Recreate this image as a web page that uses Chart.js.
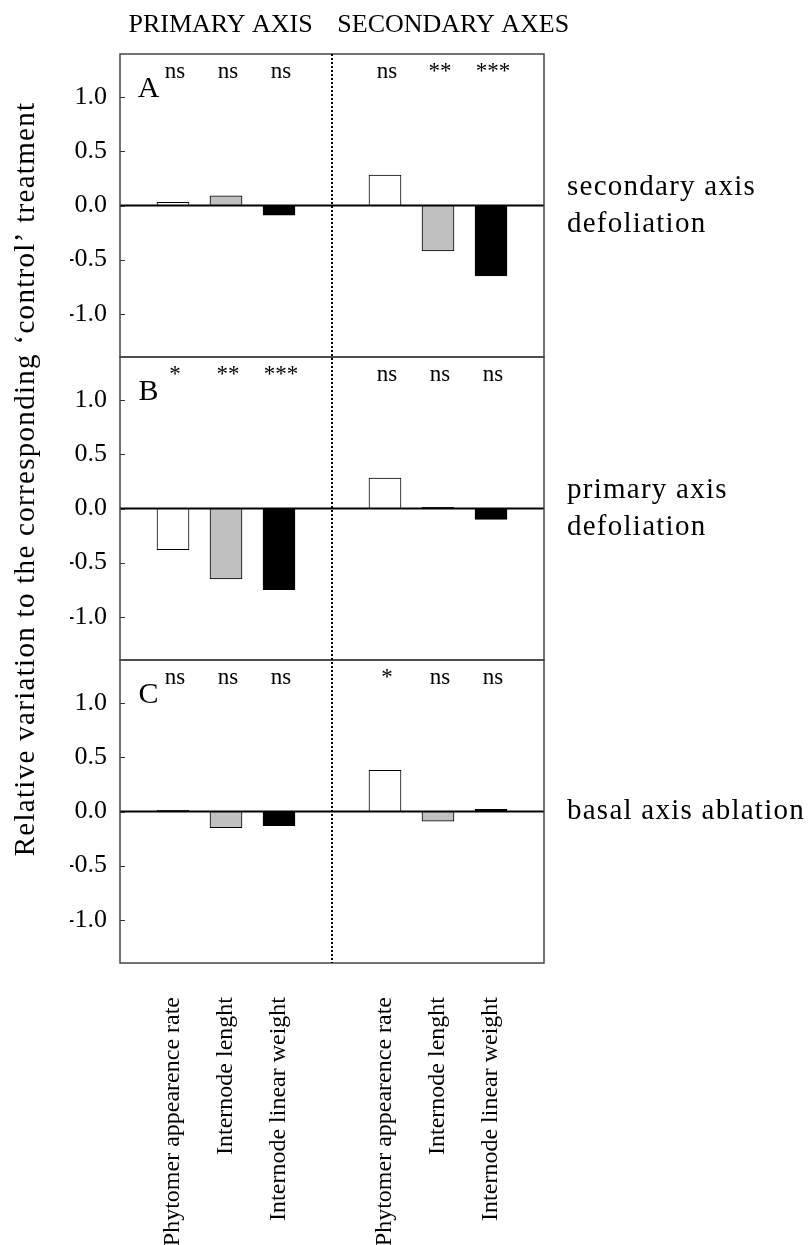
<!doctype html>
<html lang="en">
  <head>
    <meta charset="utf-8">
    <title>Relative variation to control treatment</title>
    <style>
      * { margin: 0; padding: 0; }
      body { background: #fff; }
      .chartBox { width: 808px; height: 1245px; }
    </style>
  </head>
  <body>
    <div class="chartBox">
      <canvas id="myChart"></canvas>
    </div>
    <script src="https://cdn.jsdelivr.net/npm/chart.js/dist/chart.umd.min.js"></script>
    <script>
// setup
const categories = ['Phytomer appearence rate', 'Internode lenght', 'Internode linear weight',
  'Phytomer appearence rate', 'Internode lenght', 'Internode linear weight'];
const xPositions = [1, 2, 3, 5, 6, 7];
const groupTitles = ['PRIMARY AXIS', 'SECONDARY AXES'];
const yTicks = [-1.0, -0.5, 0.0, 0.5, 1.0];

const panelLetters = ['A', 'B', 'C'];
const valuesA = [0.03, 0.09, -0.09, 0.28, -0.42, -0.65];
const valuesB = [-0.38, -0.65, -0.75, 0.28, 0.01, -0.10];
const valuesC = [0.01, -0.15, -0.13, 0.38, -0.09, 0.02];
const signifA = ['ns', 'ns', 'ns', 'ns', '**', '***'];
const signifB = ['*', '**', '***', 'ns', 'ns', 'ns'];
const signifC = ['ns', 'ns', 'ns', '*', 'ns', 'ns'];
const treatments = [['secondary axis', 'defoliation'], ['primary axis', 'defoliation'], ['basal axis ablation']];

const barColors = ['#ffffff', '#c0c0c0', '#000000', '#ffffff', '#c0c0c0', '#000000'];
const FONT = "'Liberation Serif', 'Times New Roman', serif";

const panelIds = ['yA', 'yB', 'yC'];
const panelValues = [valuesA, valuesB, valuesC];
const panelSignif = [signifA, signifB, signifC];

const datasets = panelIds.map((id, p) => ({
  label: 'panel ' + panelLetters[p],
  data: xPositions.map((x, i) => ({ x: x, y: panelValues[p][i] })),
  backgroundColor: barColors,
  borderColor: '#000',
  borderWidth: 1,
  barThickness: 32,
  grouped: false,
  yAxisID: id
}));

function yScale() {
  return {
    type: 'linear',
    position: 'left',
    stack: 'panels',
    stackWeight: 1,
    min: -1.4,
    max: 1.4,
    grid: { display: false, drawTicks: false },
    border: { display: false },
    afterBuildTicks: s => { s.ticks = yTicks.map(v => ({ value: v })); },
    afterFit: s => { s.width = 50; },
    ticks: {
      padding: 13,
      color: '#000',
      font: { family: FONT, size: 26 },
      callback: v => v.toFixed(1)
    }
  };
}

// drawn extras: frames, zero lines, inward ticks, texts
const decor = {
  id: 'decor',
  afterDatasetsDraw(chart) {
    const { ctx, chartArea: a, scales } = chart;
    const xs = scales.x;
    ctx.save();
    panelIds.forEach((id, p) => {
      const ys = scales[id];
      const y0 = ys.getPixelForValue(0);
      ctx.strokeStyle = '#000';
      ctx.lineWidth = 2;
      ctx.beginPath();
      ctx.moveTo(a.left, y0);
      ctx.lineTo(a.right, y0);
      ctx.stroke();

      ctx.strokeStyle = '#333';
      ctx.lineWidth = 1;
      yTicks.forEach(v => {
        const py = Math.round(ys.getPixelForValue(v)) + 0.5;
        ctx.beginPath();
        ctx.moveTo(a.left, py);
        ctx.lineTo(a.left + 5, py);
        ctx.stroke();
      });

      ctx.strokeStyle = '#444';
      ctx.lineWidth = 1.5;
      ctx.strokeRect(a.left, ys.top, a.right - a.left, ys.bottom - ys.top);

      // significance marks
      ctx.fillStyle = '#000';
      ctx.textAlign = 'center';
      ctx.textBaseline = 'alphabetic';
      ctx.font = '23px ' + FONT;
      panelSignif[p].forEach((t, i) => {
        ctx.fillText(t, xs.getPixelForValue(xPositions[i]) + 2, ys.top + 24);
      });

      // panel letter
      ctx.font = '30px ' + FONT;
      ctx.textBaseline = 'middle';
      ctx.fillText(panelLetters[p], xs.getPixelForValue(0.54), ys.getPixelForValue(1.08));

      // treatment label at right
      ctx.font = '29px ' + FONT;
      ctx.letterSpacing = '1.25px';
      ctx.textAlign = 'left';
      const lines = treatments[p];
      lines.forEach((t, k) => {
        const off = (k - (lines.length - 1) / 2) * 37;
        ctx.fillText(t, a.right + 23, y0 + off);
      });
      ctx.letterSpacing = '0px';
    });

    // dotted divider between primary and secondary axes
    ctx.strokeStyle = '#000';
    ctx.lineWidth = 2;
    ctx.setLineDash([2, 2]);
    const xd = xs.getPixelForValue(4);
    ctx.beginPath();
    ctx.moveTo(xd, a.top);
    ctx.lineTo(xd, a.bottom);
    ctx.stroke();
    ctx.setLineDash([]);

    // group headers
    ctx.fillStyle = '#000';
    ctx.font = '26px ' + FONT;
    ctx.textAlign = 'left';
    ctx.textBaseline = 'alphabetic';
    ctx.fillText(groupTitles[0], xs.getPixelForValue(0.16), 32);
    ctx.fillText(groupTitles[1], xs.getPixelForValue(4.1), 32);

    // y title
    ctx.save();
    ctx.translate(a.left - 86, a.top + 425);
    ctx.rotate(-Math.PI / 2);
    ctx.font = '29px ' + FONT;
    ctx.letterSpacing = '1.3px';
    ctx.textAlign = 'center';
    ctx.textBaseline = 'alphabetic';
    ctx.fillText('Relative variation to the corresponding \u2018control\u2019 treatment', 0, 0);
    ctx.restore();

    ctx.restore();
  }
};

// config
const config = {
  type: 'bar',
  data: { datasets },
  options: {
    responsive: true,
    maintainAspectRatio: false,
    animation: false,
    layout: { padding: { top: 54, left: 70, right: 264, bottom: 0 } },
    plugins: {
      legend: { display: false },
      tooltip: { enabled: false }
    },
    scales: {
      x: {
        type: 'linear',
        position: 'bottom',
        offset: false,
        min: 0,
        max: 8,
        grid: { display: false, drawTicks: false },
        border: { display: false },
        afterBuildTicks: s => { s.ticks = xPositions.map(v => ({ value: v })); },
        afterFit: s => { s.height = 282; },
        ticks: {
          autoSkip: false,
          minRotation: 90,
          maxRotation: 90,
          padding: 34,
          color: '#000',
          font: { family: FONT, size: 24 },
          callback: (v, i) => categories[i]
        }
      },
      yC: yScale(),
      yB: yScale(),
      yA: yScale()
    }
  },
  plugins: [decor]
};

// render init block
const myChart = new Chart(document.getElementById('myChart'), config);
    </script>
  </body>
</html>
